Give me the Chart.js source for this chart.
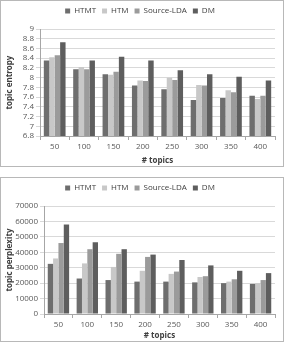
<!DOCTYPE html>
<html>
<head>
<meta charset="utf-8">
<script src="https://cdn.jsdelivr.net/npm/chart.js@4/dist/chart.umd.min.js"></script>
<style>
  html, body { margin: 0; padding: 0; background: #fff; }
  .box { position: absolute; left: 0; width: 282px; border: 1px solid #b8b8b8; background: #fff; }
  #box1 { top: 0; height: 165px; }
  #box2 { top: 177px; height: 163px; }
  canvas { position: absolute; left: 0; top: 0; }
</style>
</head>
<body>
<div class="box" id="box1"><canvas id="entropy" width="282" height="165"></canvas></div>
<div class="box" id="box2"><canvas id="perplexity" width="282" height="163"></canvas></div>
<script>
// # topics
const topics = ["50", "100", "150", "200", "250", "300", "350", "400"];
const seriesNames = ["HTMT", "HTM", "Source-LDA", "DM"];
const seriesColors = ["#6e6e6e", "#c8c8c8", "#9b9b9b", "#5e5e5e"];

// topic entropy
const entropyHTMT = [8.35, 8.17, 8.07, 7.84, 7.76, 7.54, 7.58, 7.63];
const entropyHTM = [8.42, 8.22, 8.06, 7.94, 8.00, 7.85, 7.74, 7.56];
const entropySourceLDA = [8.46, 8.17, 8.12, 7.93, 7.95, 7.84, 7.70, 7.63];
const entropyDM = [8.73, 8.35, 8.43, 8.35, 8.15, 8.07, 8.02, 7.94];

// topic perplexity
const perplexityHTMT = [32500, 23000, 22000, 21000, 21000, 20500, 20000, 19500];
const perplexityHTM = [36000, 32800, 30500, 28000, 26000, 24000, 21000, 20000];
const perplexitySourceLDA = [46000, 42000, 39000, 37000, 27500, 24500, 22500, 22000];
const perplexityDM = [58000, 46500, 42000, 38500, 35000, 31500, 28000, 26500];

const font = "'Open Sans', 'Liberation Sans', sans-serif";
Chart.defaults.font.family = font;
Chart.defaults.color = "#595959";
Chart.defaults.animation = false;

// make room under the legend so the plot starts where it should
const legendHeight = {
    id: "legendHeight",
    beforeInit(chart) {
        const orig = chart.legend.fit;
        chart.legend.fit = function () {
            orig.bind(chart.legend)();
            this.height = chart.options.plugins.legendHeight.h;
        };
    },
};

function makeChart(id, values, yOpts, yWidth, xHeight, yTitle) {
    const ctx = document.getElementById(id).getContext("2d");
    return new Chart(ctx, {
        type: "bar",
        plugins: [legendHeight],
        data: {
            labels: topics,
            datasets: values.map((v, i) => ({
                label: seriesNames[i],
                data: v,
                backgroundColor: seriesColors[i],
                borderWidth: 0,
                categoryPercentage: 0.74,
                barPercentage: 1.0,
            })),
        },
        options: {
            responsive: false,
            layout: { padding: { left: 4, right: 8, top: 0, bottom: 0 } },
            plugins: {
                legendHeight: { h: 28 },
                legend: {
                    labels: { boxWidth: 5, boxHeight: 5, padding: 6, font: { size: 8 }, color: "#404040" },
                },
                tooltip: { enabled: false },
            },
            scales: {
                x: {
                    grid: { display: true, drawOnChartArea: false, offset: true, color: "#a6a6a6", tickLength: 4 },
                    border: { color: "#a6a6a6" },
                    ticks: { font: { size: 8 }, padding: 2 },
                    title: { display: true, text: "# topics", font: { size: 8, weight: "bold" }, color: "#404040", padding: { top: 5, bottom: 0 } },
                    afterFit: (s) => { s.height = xHeight; },
                },
                y: Object.assign({
                    grid: { color: "#d9d9d9", tickLength: 4 },
                    border: { color: "#a6a6a6" },
                    title: { display: true, text: yTitle, font: { size: 8, weight: "bold" }, color: "#404040", padding: 0 },
                    afterFit: (s) => { s.width = yWidth; },
                }, yOpts),
            },
        },
    });
}

makeChart("entropy",
    [entropyHTMT, entropyHTM, entropySourceLDA, entropyDM],
    { min: 6.8, max: 9, ticks: { stepSize: 0.2, autoSkip: false, font: { size: 8 }, padding: 2, callback: (v) => String(+v.toFixed(1)) } },
    35, 30, "topic entropy");

makeChart("perplexity",
    [perplexityHTMT, perplexityHTM, perplexitySourceLDA, perplexityDM],
    { min: 0, max: 70000, ticks: { stepSize: 10000, autoSkip: false, font: { size: 8 }, padding: 2, callback: (v) => String(v) } },
    39, 27, "topic perplexity");
</script>
</body>
</html>
